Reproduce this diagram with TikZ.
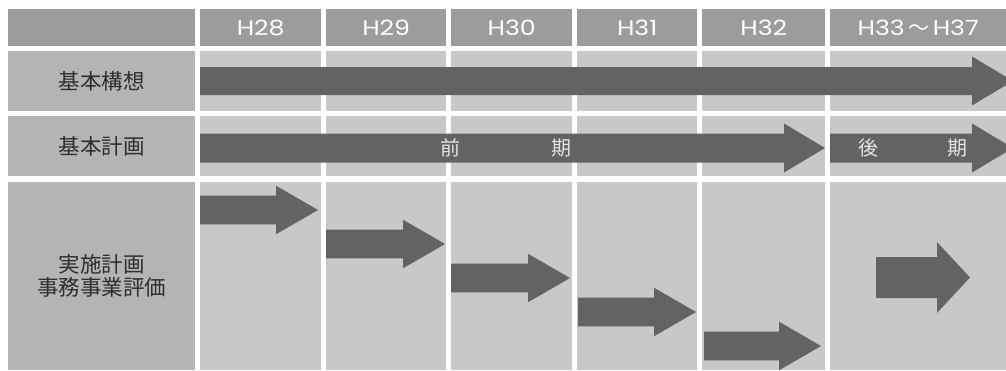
\documentclass[tikz,border=0pt]{standalone}
\usepackage{fontspec}
\newfontfamily\jfont{Noto Sans CJK JP}
\newfontfamily\yfont[FakeStretch=1.2]{Poppins}
\definecolor{headgray}{HTML}{9C9C9C}
\definecolor{sidegray}{HTML}{B4B4B4}
\definecolor{bodygray}{HTML}{C8C8C8}
\definecolor{arrowgray}{HTML}{646263}
\definecolor{labelgray}{HTML}{2E2E2E}
% #1 tail x, #2 tip x, #3 centre y, #4 half shaft, #5 half head, #6 head length
\newcommand\blockarrow[6]{%
  \fill[arrowgray] (#1,{#3-#4}) -- ({#2-#6},{#3-#4}) -- ({#2-#6},{#3-#5}) -- (#2,#3)
    -- ({#2-#6},{#3+#5}) -- ({#2-#6},{#3+#4}) -- (#1,{#3+#4}) -- cycle;}

\begin{document}
\begin{tikzpicture}[x=1pt,y=-1pt]
\tikzset{cell/.style={fill=bodygray,inner sep=0pt,anchor=north west},
  headcell/.style={cell,fill=headgray,text=white,font=\yfont\fontsize{21}{21}\selectfont},
  sidecell/.style={cell,fill=sidegray,text=labelgray,align=center,
    font=\jfont\fontsize{21.5}{23}\selectfont},
  arrowtext/.style={text=white!90!black,font=\jfont\fontsize{20}{20}\selectfont}}
\useasboundingbox (0,0) rectangle (1006,370);
\clip (0,0) rectangle (1006,370);
% side column
\node[sidecell,fill=headgray,minimum width=187pt,minimum height=37pt] (corner) at (8,9) {};
\node[sidecell,minimum width=187pt,minimum height=60pt] (kousou) at (8,51) {基本構想};
\node[sidecell,minimum width=187pt,minimum height=60pt] (keikaku) at (8,116) {基本計画};
\node[sidecell,minimum width=187pt,minimum height=188pt] (jisshi) at (8,182) {実施計画\\事務事業評価};
% year columns
\foreach \n/\l/\r/\t in {28/200/321/H28, 29/326/446/H29, 30/451/572/H30,
    31/577/697/H31, 32/702/825/H32, 33/830/1006/{H33\,{\jfont ～}\,H37}} {
  \node[headcell,minimum width={(\r-\l)*1pt},minimum height=37pt] (h\n) at (\l,9) {\t};
  \node[cell,minimum width={(\r-\l)*1pt},minimum height=60pt] (a\n) at (\l,51) {};
  \node[cell,minimum width={(\r-\l)*1pt},minimum height=60pt] (b\n) at (\l,116) {};
  \node[cell,minimum width={(\r-\l)*1pt},minimum height=188pt] (c\n) at (\l,182) {};
}
% arrows
\blockarrow{200}{1013}{81}{14}{24.5}{41}
\blockarrow{200}{825}{148}{14.5}{24.5}{41}
\blockarrow{830}{1013}{148}{14.5}{24.5}{41}
\foreach \a/\b/\y in {200/318/210, 326/445/244, 451/570/278, 578/696/312, 704/821/346}
  \blockarrow{\a}{\b}{\y}{14.3}{24.3}{42};
\blockarrow{876}{970}{277.5}{20.5}{35.5}{33}
\node[arrowtext] (zen) at (450,148) {前};
\node[arrowtext] (ki1) at (561,148) {期};
\node[arrowtext] (kou) at (868,148) {後};
\node[arrowtext] (ki2) at (957,148) {期};
\end{tikzpicture}
\end{document}
